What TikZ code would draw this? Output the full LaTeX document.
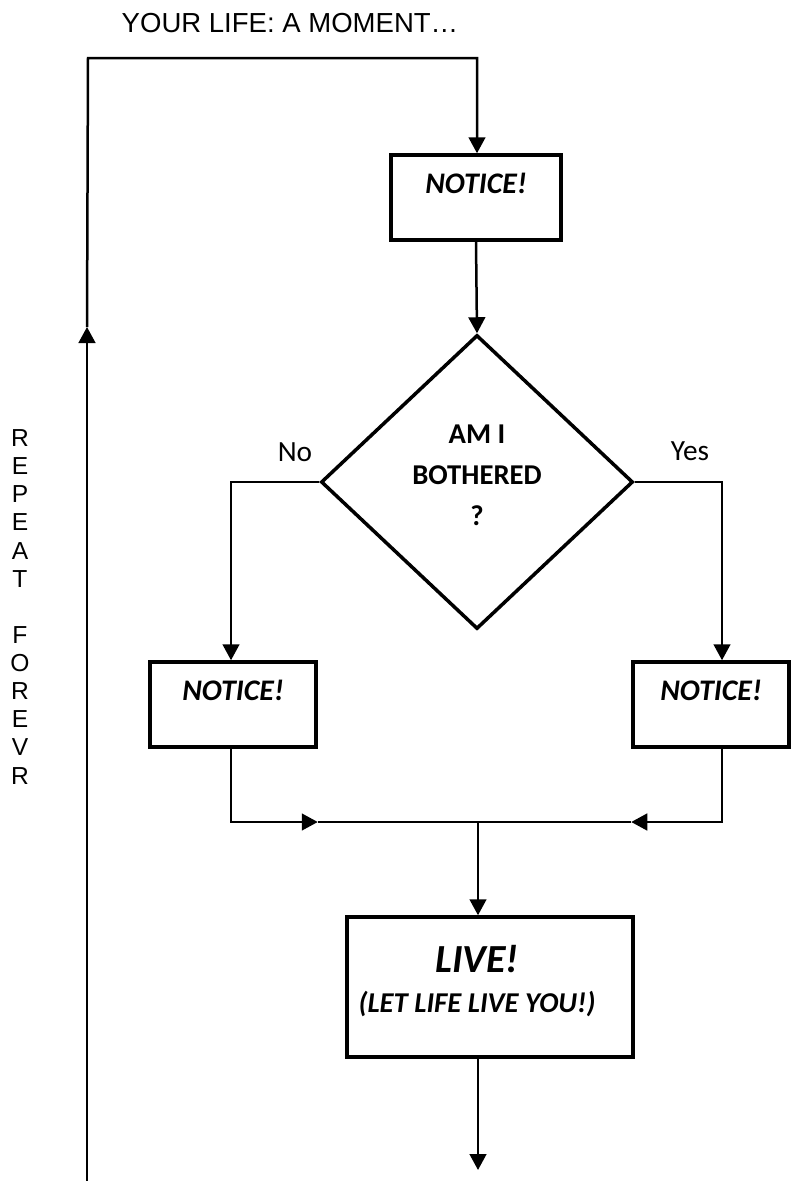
\documentclass[tikz,border=0pt]{standalone}
\usepackage{fontspec}
\setmainfont{Carlito}
\newfontfamily\arialfont{Liberation Sans}
\usetikzlibrary{shapes.geometric}
\usetikzlibrary{arrows.meta}
\usetikzlibrary{positioning}
\tikzset{
    notice/.style={
           rectangle,
           draw=black, line width=1.05mm,
           inner sep=0pt,
           text height=11.4mm, text depth=14.1mm,
           font=\fontsize{25.5}{30}\selectfont\bfseries\itshape,
           text centered,
           },
    ask/.style={
           diamond,
           draw=black, line width=1.05mm,
           inner sep=0pt,
           minimum width=93.6mm, minimum height=88.2mm,
           align=center, text depth=4.2mm,
           font=\fontsize{24.5}{35}\selectfont\bfseries,
           },
    flow/.style={line width=0.75mm, -{Triangle[length=4.8mm,width=5mm]}},
    link/.style={line width=0.75mm},
}

\begin{document}
\begin{tikzpicture}[x=0.3mm,y=-0.3mm]
   \useasboundingbox (0,0) rectangle (791,1181);
   \node[anchor=base, font=\arialfont\fontsize{23.5}{28}\selectfont] (title) at (290,32) {YOUR LIFE: A MOMENT…};
   \node[anchor=base, align=center, font=\arialfont\fontsize{21}{24}\selectfont] (repeat) at (20,784)
        {R\\E\\P\\E\\A\\T\\~\\F\\O\\R\\E\\V\\R};
   \node[notice, minimum width=51mm, anchor=base] (notice_top) at (476,193) {NOTICE!};
   \node[ask] (ask) at (477,482) {AM I\\BOTHERED\\?};
   \node[anchor=base, font=\fontsize{25}{30}\selectfont] (no) at (295,461) {No};
   \node[anchor=base, font=\fontsize{25}{30}\selectfont] (yes) at (690,460) {Yes};
   \node[notice, minimum width=49.8mm, anchor=base] (notice_l) at (233,700) {NOTICE!};
   \node[notice, minimum width=46.8mm, anchor=base] (notice_r) at (711,700) {NOTICE!};
   \node[rectangle, draw=black, line width=1.05mm, inner sep=0pt,
         minimum width=85.8mm, text height=28.5mm, text depth=13.5mm,
         align=center, font=\fontsize{24.5}{36}\selectfont\bfseries\itshape, anchor=base] (live) at (490,1012)
        {{\fontsize{34}{36}\selectfont LIVE!}\hspace*{7.8mm}\\[-2.5pt](LET LIFE LIVE YOU!)\hspace*{7.8mm}};
   % loop back to the top
   \coordinate (loop_bot) at (87,1181);
   \coordinate (loop_tip) at (87,327);
   \coordinate (loop_top) at (88,58);
   \coordinate (loop_in) at (477,58);
   \draw[flow] (loop_bot) -- (loop_tip);
   \draw[flow] (loop_tip) -- (loop_top) -- (loop_in) -- (loop_in |- notice_top.north);
   \draw[flow] (notice_top.south) -- (ask.north);
   % the two answers
   \coordinate (no_turn) at (231,482);
   \coordinate (yes_turn) at (722,482);
   \draw[flow] (ask.west) -- (no_turn) -- (no_turn |- notice_l.north);
   \draw[flow] (ask.east) -- (yes_turn) -- (yes_turn |- notice_r.north);
   \coordinate (join) at (478,822);
   \draw[flow] (no_turn |- notice_l.south) |- (notice_l.east |- join);
   \draw[link] (notice_l.east |- join) -- (join);
   \draw[flow] (yes_turn |- notice_r.south) |- (notice_r.west |- join);
   \draw[link] (notice_r.west |- join) -- (join);
   \draw[flow] (join) -- (join |- live.north);
   \coordinate (live_out) at (478,1170);
   \draw[flow] (join |- live.south) -- (live_out);
\end{tikzpicture}
\end{document}
